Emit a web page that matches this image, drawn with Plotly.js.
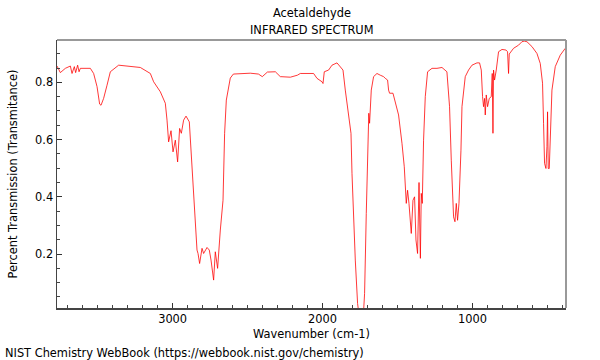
<!DOCTYPE html>
<html>
<head>
<meta charset="utf-8">
<script src="https://cdn.plot.ly/plotly-3.0.1.min.js"></script>
<style>html,body{margin:0;padding:0;background:#fff;}#chart{width:600px;height:360px;}</style>
</head>
<body>
<div id="chart"></div>
<script>
// Wavenumber (cm-1)
const wavenumber = [
3770.7,3748.7,3715.3,3682,3670.7,3655.4,3646.7,3633.4,3624,3615.4,
3548.7,3526.7,3504,3486.7,3477.4,3460,3437.4,3415.4,3360,3304,
3215.4,3148.7,3126.7,3082,3060,3048.7,3037.4,3026.7,3010.7,2997.4,
2982,2966.7,2953.4,2942,2926.7,2910.7,2888.7,2870.7,2853.4,2837.4,
2830.7,2820,2804,2793.4,2770.7,2755.4,2744,2726.7,2715.4,2700,
2682,2664,2653.4,2642,2615.4,2595,2482,2428,2402,2368,
2315,2282,2215,2168,2148.7,2060,2037.4,2004,1997.4,1988.7,
1960,1937.4,1904,1882,1864,1848.7,1826.7,1810.7,1804,1793.4,
1782,1766.7,1760,1726.7,1720,1708.7,1697.4,1692,1686.7,1682,
1675.4,1660,1637.4,1615.4,1593.4,1582,1566.7,1560,1553.4,1530.7,
1515.4,1493.4,1470.7,1455.4,1442,1433.4,1424,1408.7,1397.4,1386.7,
1377.4,1366.7,1357,1348,1342,1335.4,1326.7,1315.4,1300,1270.7,
1237.4,1204,1171,1153.4,1142,1126.7,1117.4,1108.7,1100,1090.7,
1077.4,1070.7,1048.7,1026.7,1004,970.7,953.4,942,933.4,926.7,
920,915.4,908.7,900,888.7,875.4,868.7,864,860,853.4,
842,826.7,804,777.4,766.7,760,755.4,726.7,693.4,671,
655.4,637.4,604,570.7,548.7,533.4,526.7,520,510.7,504,
500,495.4,488.7,482,470.7,448.7,415.4,382
];
// Transmittance
const transmittance = [
0.857,0.834,0.849,0.857,0.831,0.855,0.834,0.860,0.837,0.849,
0.849,0.831,0.785,0.724,0.720,0.744,0.790,0.837,0.860,0.857,
0.852,0.831,0.802,0.767,0.740,0.727,0.668,0.592,0.631,0.557,
0.598,0.522,0.639,0.622,0.668,0.682,0.662,0.517,0.353,0.214,
0.202,0.167,0.220,0.202,0.223,0.214,0.179,0.109,0.208,0.150,
0.284,0.388,0.622,0.738,0.815,0.829,0.832,0.829,0.820,0.836,
0.837,0.820,0.818,0.825,0.831,0.831,0.814,0.802,0.796,0.837,
0.843,0.860,0.868,0.855,0.843,0.773,0.680,0.622,0.482,0.307,
0.179,0.027,0.0,0.0,0.062,0.342,0.552,0.692,0.657,0.700,
0.773,0.820,0.831,0.825,0.820,0.814,0.808,0.773,0.762,0.762,
0.732,0.686,0.587,0.505,0.377,0.423,0.377,0.272,0.388,0.400,
0.249,0.202,0.450,0.185,0.412,0.377,0.598,0.750,0.837,0.849,
0.849,0.852,0.837,0.715,0.528,0.330,0.313,0.377,0.318,0.377,
0.563,0.715,0.820,0.843,0.860,0.868,0.868,0.843,0.750,0.715,
0.744,0.686,0.756,0.715,0.744,0.750,0.831,0.622,0.843,0.808,
0.843,0.907,0.915,0.913,0.907,0.831,0.899,0.919,0.930,0.942,
0.944,0.942,0.925,0.901,0.866,0.797,0.657,0.517,0.499,0.575,
0.697,0.499,0.499,0.598,0.773,0.855,0.895,0.919
];
const xTicks = [3000, 2000, 1000];
const yTicks = [0.2, 0.4, 0.6, 0.8];
const yTickText = ['0.2', '0.4', '0.6', '0.8'];

const FONT = 'DejaVu Sans, sans-serif';
const FS = 11.4;

const trace = {
  x: wavenumber, y: transmittance, type: 'scatter', mode: 'lines',
  line: {color: 'rgba(255,0,0,0.78)', width: 1}, hoverinfo: 'skip', cliponaxis: true
};

const layout = {
  width: 600, height: 360,
  margin: {l: 57, r: 34, t: 40, b: 52, pad: 0},
  paper_bgcolor: '#fff', plot_bgcolor: '#fff',
  showlegend: false,
  font: {family: FONT, size: FS, color: '#000'},
  xaxis: {
    range: [3771, 377], tickvals: xTicks, ticks: 'inside', ticklen: 5, tickwidth: 1, tickcolor: '#333',
    showline: true, linecolor: '#444', linewidth: 1.5, showgrid: false, zeroline: false,
    minor: {dtick: 100, tick0: 0, ticks: 'inside', ticklen: 3, tickcolor: '#444', showgrid: false},
    tickfont: {family: FONT, size: FS, color: '#000'},
    title: {text: 'Wavenumber (cm-1)', font: {family: FONT, size: FS, color: '#000'}, standoff: 5}
  },
  yaxis: {
    range: [0.0115, 0.948], tickvals: yTicks, ticktext: yTickText, ticks: 'inside', ticklen: 5, tickwidth: 1, tickcolor: '#333',
    showline: true, linecolor: '#444', linewidth: 1.5, showgrid: false, zeroline: false,
    minor: {dtick: 0.05, tick0: 0, ticks: 'inside', ticklen: 3, tickcolor: '#444', showgrid: false},
    tickfont: {family: FONT, size: FS, color: '#000'},
    title: {text: 'Percent Transmission (Transmitance)', font: {family: FONT, size: FS, color: '#000'}, standoff: 15}
  },
  shapes: [
    {type: 'line', xref: 'paper', yref: 'paper', x0: 0, x1: 1, y0: 1, y1: 1, line: {color: '#999', width: 2}},
    {type: 'line', xref: 'paper', yref: 'paper', x0: 1, x1: 1, y0: 0, y1: 1, line: {color: '#999', width: 2}}
  ],
  annotations: [
    {text: 'Acetaldehyde', xref: 'paper', yref: 'paper', x: 0.5, y: 1.1007, xanchor: 'center', yanchor: 'middle', showarrow: false, font: {family: FONT, size: FS, color: '#000'}},
    {text: 'INFRARED SPECTRUM', xref: 'paper', yref: 'paper', x: 0.5, y: 1.0373, xanchor: 'center', yanchor: 'middle', showarrow: false, font: {family: FONT, size: FS, color: '#000'}},
    {text: 'NIST Chemistry WebBook (https://webbook.nist.gov/chemistry)', xref: 'paper', yref: 'paper', x: -0.1061, y: -0.168, xanchor: 'left', yanchor: 'middle', showarrow: false, font: {family: FONT, size: FS, color: '#000'}}
  ]
};

Plotly.newPlot('chart', [trace], layout, {staticPlot: true, displayModeBar: false});
</script>
</body>
</html>
